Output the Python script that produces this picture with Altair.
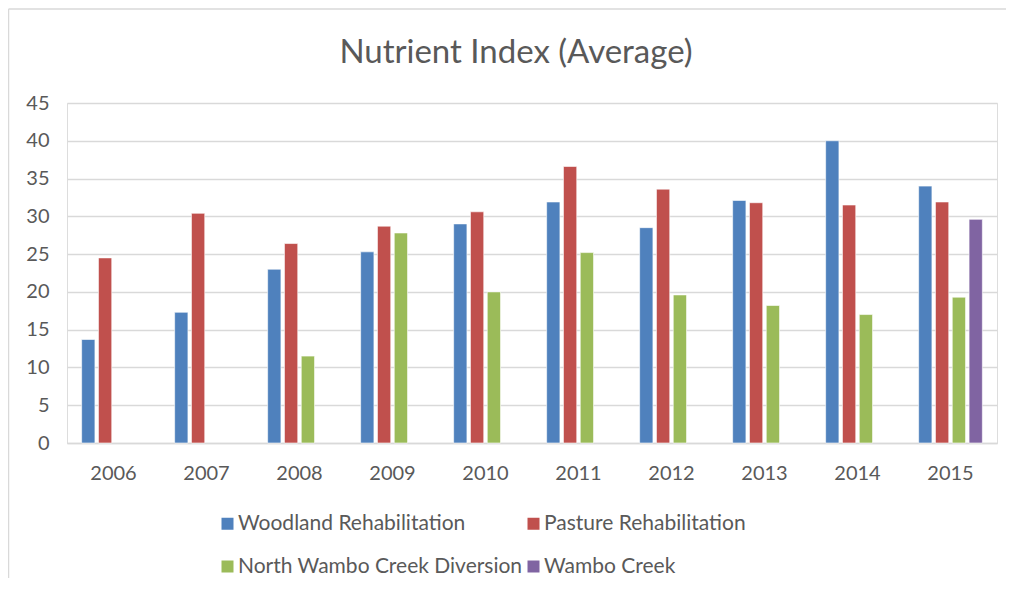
import altair as alt
import pandas as pd

years = ["2006", "2007", "2008", "2009", "2010", "2011", "2012", "2013", "2014", "2015"]
series_names = ["Woodland Rehabilitation", "Pasture Rehabilitation",
                "North Wambo Creek Diversion", "Wambo Creek"]
woodland = [13.7, 17.3, 23.0, 25.3, 29.0, 31.9, 28.5, 32.1, 40.0, 34.0]
pasture = [24.5, 30.4, 26.4, 28.7, 30.6, 36.6, 33.6, 31.8, 31.5, 31.9]
north_wambo = [None, None, 11.5, 27.8, 20.0, 25.2, 19.6, 18.2, 17.0, 19.3]
wambo = [None, None, None, None, None, None, None, None, None, 29.6]
colors = ["#4F81BD", "#C0504D", "#9BBB59", "#8064A2"]

rows = []
for name, vals in zip(series_names, [woodland, pasture, north_wambo, wambo]):
    for y, v in zip(years, vals):
        if v is not None:
            rows.append({"Year": y, "Series": name, "Value": v})
df = pd.DataFrame(rows)

FONT = "Lato"
TXT = "#595959"
GRID = "#d9d9d9"

bars = alt.Chart(df).mark_bar(stroke="white", strokeWidth=0.6).encode(
    x=alt.X("Year:N", sort=years,
            scale=alt.Scale(paddingInner=0.315, paddingOuter=0.1575),
            axis=alt.Axis(title=None, labelAngle=0, ticks=False, domain=True,
                          domainColor=GRID, domainWidth=1.5, labelPadding=20,
                          labelFontSize=20, labelColor=TXT, labelFont=FONT)),
    xOffset=alt.XOffset("Series:N", sort=series_names,
                        scale=alt.Scale(domain=series_names, paddingInner=0.21, paddingOuter=0)),
    y=alt.Y("Value:Q", scale=alt.Scale(domain=[0, 45], nice=False),
            axis=alt.Axis(title=None, values=list(range(0, 50, 5)), ticks=False,
                          domain=False, gridColor=GRID, gridWidth=1.5,
                          labelPadding=18, labelFontSize=20, labelColor=TXT,
                          labelFont=FONT)),
    color=alt.Color("Series:N", sort=series_names,
                    scale=alt.Scale(domain=series_names, range=colors),
                    legend=alt.Legend(title=None, orient="none", legendX=150, legendY=410,
                                      direction="horizontal", columns=2,
                                      columnPadding=0, rowPadding=21,
                                      symbolType="square", symbolSize=144,
                                      symbolStrokeWidth=0, labelOffset=0,
                                      labelFontSize=21, labelColor=TXT,
                                      labelFont=FONT, labelLimit=400)),
)

border = alt.Chart(alt.Data(values=[{}])).mark_rule(color=GRID, strokeWidth=1.5).encode(
    x=alt.value(-58.5), y=alt.value(-94), y2=alt.value(475)
)
border_top = alt.Chart(alt.Data(values=[{}])).mark_rule(color=GRID, strokeWidth=1.5).encode(
    x=alt.value(-58.5), x2=alt.value(939), y=alt.value(-94)
)

chart = alt.layer(bars, border, border_top).properties(
    width=930, height=340,
    title=alt.Title("Nutrient Index (Average)", fontSize=33, font=FONT, color=TXT,
                    fontWeight="normal", anchor="middle", dx=-16, offset=0,
                    baseline="alphabetic", dy=88),
    autosize=alt.AutoSizeParams(type="none"),
    padding={"left": 59, "top": 95, "right": 9, "bottom": 135},
).configure_view(stroke=None).configure(background="white")

chart.save("out.html", embed_options={"renderer": "svg", "actions": False})
